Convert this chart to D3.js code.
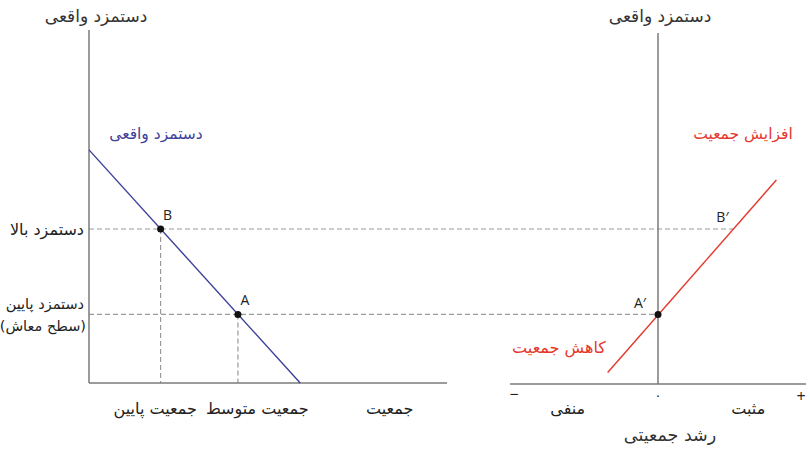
<!DOCTYPE html>
<html>
<head>
<meta charset="utf-8">
<script src="https://cdn.jsdelivr.net/npm/d3@7"></script>
<style>
  body { margin: 0; background: #fff; }
  text.fa { font-family: "DejaVu Sans", sans-serif; direction: rtl; }
  text.lat { font-family: "Open Sans", "Liberation Sans", sans-serif; }
</style>
</head>
<body>
<div id="chart"></div>
<script>
// wage levels (0..100 scale) and their labels
var wageLevels = [44, 19.6];
var wageLabels = [["دستمزد بالا"], ["دستمزد پایین", "(سطح معاش)"]];

// left panel: population (0..100) at the two points
var popPoints = [{name: "B", pop: 20, wage: 44}, {name: "A", pop: 41.6, wage: 19.6}];
var popLabels = [{text: "جمعیت پایین", pop: 18.5}, {text: "جمعیت متوسط", pop: 47}, {text: "جمعیت", pop: 84}];
var demandLine = [{pop: 0, wage: 66.6}, {pop: 59, wage: 0}];

// right panel: population growth (-1..1)
var growthPoints = [{name: "A′", g: 0, wage: 19.6}, {name: "B′", g: 0.51, wage: 44}];
var growthLine = [{g: -0.34, wage: 3}, {g: 0.8, wage: 58}];
var growthLabels = [{text: "منفی", g: -0.61}, {text: "مثبت", g: 0.61}];

var width = 810, height = 455;
var svg = d3.select("#chart").append("svg")
    .attr("width", width)
    .attr("height", height);

var y = d3.scaleLinear().domain([0, 100]).range([383, 33]);
var xL = d3.scaleLinear().domain([0, 100]).range([89, 447]);
var xR = d3.scaleLinear().domain([-1, 1]).range([510, 806]);

var axisColor = "#7a7a7a", dashColor = "#9a9a9a";
var blue = "#3b4199", red = "#e5372b";

// dashed guides
svg.append("line")
    .attr("x1", xL(0)).attr("x2", xR(growthPoints[1].g))
    .attr("y1", y(wageLevels[0])).attr("y2", y(wageLevels[0]))
    .attr("stroke", dashColor).attr("stroke-width", 1.2).attr("stroke-dasharray", "5,3");
svg.append("line")
    .attr("x1", xL(0)).attr("x2", xR(growthPoints[0].g))
    .attr("y1", y(wageLevels[1])).attr("y2", y(wageLevels[1]))
    .attr("stroke", dashColor).attr("stroke-width", 1.2).attr("stroke-dasharray", "5,3");
svg.selectAll(".vdash")
    .data(popPoints)
    .enter()
    .append("line")
    .attr("x1", d => xL(d.pop)).attr("x2", d => xL(d.pop))
    .attr("y1", d => y(d.wage)).attr("y2", y(0))
    .attr("stroke", dashColor).attr("stroke-width", 1.2).attr("stroke-dasharray", "5,3");

// axes
svg.append("line").attr("x1", xL(0)).attr("x2", xL(0)).attr("y1", y(100) - 3).attr("y2", y(0))
    .attr("stroke", axisColor).attr("stroke-width", 1.5);
svg.append("line").attr("x1", xL(0)).attr("x2", xL(100)).attr("y1", y(0)).attr("y2", y(0))
    .attr("stroke", axisColor).attr("stroke-width", 1.5);
svg.append("line").attr("x1", xR(0)).attr("x2", xR(0)).attr("y1", y(100)).attr("y2", y(0) + 1)
    .attr("stroke", axisColor).attr("stroke-width", 1.5);
svg.append("line").attr("x1", xR(-1)).attr("x2", xR(1)).attr("y1", y(0) + 1).attr("y2", y(0) + 1)
    .attr("stroke", axisColor).attr("stroke-width", 1.5);

// curves
var lineL = d3.line().x(d => xL(d.pop)).y(d => y(d.wage));
var lineR = d3.line().x(d => xR(d.g)).y(d => y(d.wage));
svg.append("path").attr("d", lineL(demandLine)).attr("fill", "none").attr("stroke", blue).attr("stroke-width", 1.4);
svg.append("path").attr("d", lineR(growthLine)).attr("fill", "none").attr("stroke", red).attr("stroke-width", 1.4);

// points
svg.selectAll(".pl")
    .data(popPoints)
    .enter()
    .append("circle")
    .attr("cx", d => xL(d.pop)).attr("cy", d => y(d.wage)).attr("r", 3.5).attr("fill", "#111");
svg.selectAll(".pr")
    .data(growthPoints.slice(0, 1))
    .enter()
    .append("circle")
    .attr("cx", d => xR(d.g)).attr("cy", d => y(d.wage)).attr("r", 3.5).attr("fill", "#111");

// point labels
svg.selectAll(".lblL")
    .data(popPoints)
    .enter()
    .append("text").attr("class", "lat")
    .attr("x", d => xL(d.pop) + 7).attr("y", d => y(d.wage) - 9)
    .attr("text-anchor", "middle").style("font-size", "14px").attr("fill", "#222")
    .text(d => d.name);
svg.append("text").attr("class", "lat")
    .attr("x", xR(growthPoints[0].g) - 18).attr("y", y(growthPoints[0].wage) - 6)
    .attr("text-anchor", "middle").style("font-size", "14px").attr("fill", "#222")
    .text(growthPoints[0].name);
svg.append("text").attr("class", "lat")
    .attr("x", xR(growthPoints[1].g) - 11).attr("y", y(growthPoints[1].wage) - 7)
    .attr("text-anchor", "middle").style("font-size", "14px").attr("fill", "#222")
    .text(growthPoints[1].name);

// titles
svg.append("text").attr("class", "fa").attr("x", 96).attr("y", 22)
    .attr("text-anchor", "middle").style("font-size", "17px").attr("fill", "#333")
    .text("دستمزد واقعی");
svg.append("text").attr("class", "fa").attr("x", 660).attr("y", 22)
    .attr("text-anchor", "middle").style("font-size", "17px").attr("fill", "#333")
    .text("دستمزد واقعی");

// curve labels
svg.append("text").attr("class", "fa").attr("x", 156).attr("y", 139)
    .attr("text-anchor", "middle").style("font-size", "15.5px").attr("fill", blue)
    .text("دستمزد واقعی");
svg.append("text").attr("class", "fa").attr("x", 743).attr("y", 139)
    .attr("text-anchor", "middle").style("font-size", "15.5px").attr("fill", red)
    .text("افزایش جمعیت");
svg.append("text").attr("class", "fa").attr("x", 559).attr("y", 353)
    .attr("text-anchor", "middle").style("font-size", "16px").attr("fill", red)
    .text("کاهش جمعیت");

// wage labels (left)
wageLabels.forEach(function(lines, i) {
    var multi = lines.length > 1;
    var t = svg.append("text").attr("class", "fa")
        .attr("x", 83).attr("y", y(wageLevels[i]) + 6 + (multi ? -11 : 0))
        .attr("text-anchor", "end").style("direction", "ltr")
        .style("font-size", multi ? "14.5px" : "16px").attr("fill", "#222");
    lines.forEach(function(l, j) {
        t.append("tspan").attr("x", j == 0 ? 84 : 86).attr("dy", j == 0 ? 0 : 22).text(l);
    });
});

// population labels
svg.selectAll(".popl")
    .data(popLabels)
    .enter()
    .append("text").attr("class", "fa")
    .attr("x", d => xL(d.pop)).attr("y", 414)
    .attr("text-anchor", "middle").style("font-size", "16px").attr("fill", "#222")
    .text(d => d.text);

// growth labels
svg.selectAll(".grl")
    .data(growthLabels)
    .enter()
    .append("text").attr("class", "fa")
    .attr("x", d => xR(d.g)).attr("y", 414)
    .attr("text-anchor", "middle").style("font-size", "16px").attr("fill", "#222")
    .text(d => d.text);
svg.append("text").attr("class", "fa").attr("x", xR(0)).attr("y", 400)
    .attr("text-anchor", "middle").style("font-size", "13px").attr("fill", "#222").text("۰");
svg.append("text").attr("class", "lat").attr("x", xR(-1) + 4).attr("y", 400)
    .attr("text-anchor", "middle").style("font-size", "16px").attr("fill", "#222").text("−");
svg.append("text").attr("class", "lat").attr("x", xR(1) - 5).attr("y", 402)
    .attr("text-anchor", "middle").style("font-size", "16px").attr("fill", "#222").text("+");
svg.append("text").attr("class", "fa").attr("x", 670).attr("y", 441)
    .attr("text-anchor", "middle").style("font-size", "17.5px").attr("fill", "#333")
    .text("رشد جمعیتی");
</script>
</body>
</html>
